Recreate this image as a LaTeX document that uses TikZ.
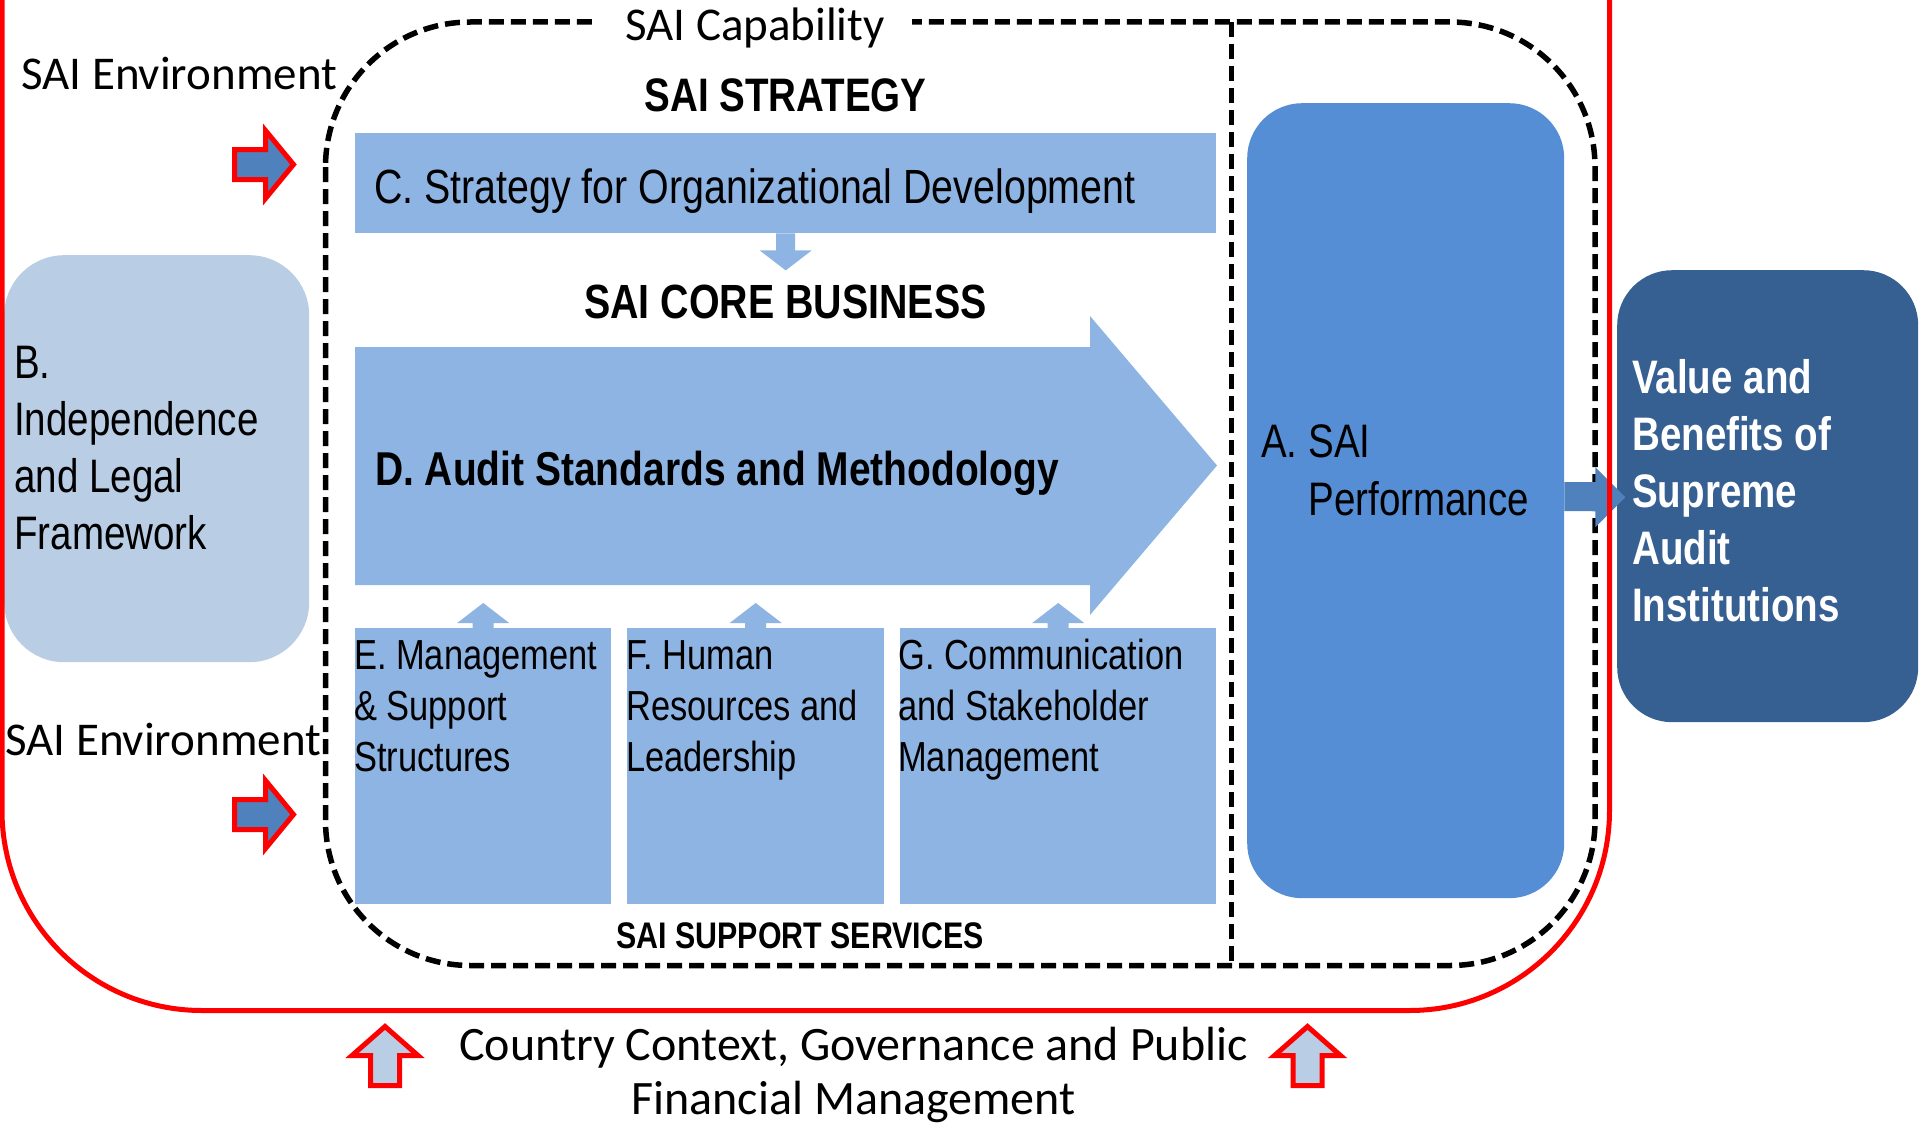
\documentclass[tikz,border=0pt]{standalone}
\usepackage{fontspec}
\newfontfamily\carl{Carlito}
\newfontfamily\narrow[FakeStretch=0.82]{Liberation Sans}
\usetikzlibrary{calc}
\definecolor{boxblue}{HTML}{8EB4E3}
\definecolor{paleblue}{HTML}{B9CDE5}
\definecolor{perfblue}{HTML}{558ED5}
\definecolor{valueblue}{HTML}{376092}
\definecolor{arrowblue}{HTML}{4F81BD}
\definecolor{outred}{HTML}{FF0000}
\tikzset{
  blk/.style={fill=boxblue, draw=none, inner sep=0pt, anchor=north west},
  rblk/.style={draw=none, inner sep=0pt, anchor=north west, rounded corners=#1},
  txtsmall/.style={font=\narrow\fontsize{42}{51}\selectfont, inner sep=0pt, align=left, anchor=north west},
  txtbig/.style={font=\narrow\fontsize{47}{57}\selectfont, inner sep=0pt, align=left, anchor=north west},
  heading/.style={font=\narrow\bfseries\fontsize{47}{57}\selectfont, inner sep=0pt, anchor=base},
  envtxt/.style={font=\carl\fontsize{47}{56}\selectfont, inner sep=0pt},
  dashline/.style={black, line width=5.5pt, dash pattern=on 15pt off 7pt},
  smalldown/.pic={\fill[boxblue] (-9.5,0) -- (-9.5,17) -- (-26,17) -- (0,37) -- (26,17) -- (9.5,17) -- (9.5,0) -- cycle;},
  smallup/.pic={\fill[boxblue] (-10.5,0) -- (-10.5,-5) -- (-26,-5) -- (0,-25) -- (26,-5) -- (10.5,-5) -- (10.5,0) -- cycle;},
  envarrow/.pic={\draw[outred, fill=arrowblue, line width=5pt, line join=miter] (0,-15) -- (31,-15) -- (31,-34) -- (59,0) -- (31,34) -- (31,15) -- (0,15) -- cycle;},
  ctxarrow/.pic={\draw[outred, fill=paleblue, line width=5pt, line join=miter] (-14.5,0) -- (-14.5,-30) -- (-33,-30) -- (0,-59) -- (33,-30) -- (14.5,-30) -- (14.5,0) -- cycle;},
}
\begin{document}
\begin{tikzpicture}[x=1pt, y=-1pt]
\useasboundingbox (0,0) rectangle (1920,1124);
\fill[white] (0,0) rectangle (1920,1124);

% SAI capability dashed frame
\draw[dashline, rounded corners=145pt] (325.5,22) rectangle (1595,965.5);
\draw[dashline] (1231.5,22) -- (1231.5,965.5);
\node[envtxt, anchor=base, fill=white, inner xsep=27pt, inner ysep=6pt] (cap) at (755,41) {SAI Capability};

% left box B
\node[rblk=60pt, fill=paleblue, minimum width=305pt, minimum height=407pt] (B) at (4,255) {};
\node[txtbig] (Bt) at (14,338.1) {\strut B.\\Independence\\and Legal\\Framework};

% strategy
\node[heading] (strat) at (785.5,111) {SAI STRATEGY};
\node[blk, minimum width=861pt, minimum height=100pt] (C) at (355,133) {};
\node[font=\narrow\fontsize{48}{57}\selectfont, inner sep=0pt, anchor=base west] (Ct) at (374,203) {C. Strategy for Organizational Development};
\pic at (C.south) {smalldown};

% core business
\node[heading, font=\narrow\bfseries\fontsize{48}{57}\selectfont] (core) at (785.5,318) {SAI CORE BUSINESS};
\fill[boxblue] (355,347) -- (1090,347) -- (1090,316) -- (1217,465.5) -- (1090,615) -- (1090,585) -- (355,585) -- cycle;
\node[heading, anchor=base west, font=\narrow\bfseries\fontsize{47.5}{57}\selectfont] (Dt) at (375,485) {D. Audit Standards and Methodology};

% support services
\node[blk, minimum width=256pt, minimum height=276pt] (E) at (355,628) {};
\node[blk, minimum width=257pt, minimum height=276pt] (F) at (627,628) {};
\node[blk, minimum width=316pt, minimum height=276pt] (G) at (900,628) {};
\pic at (E.north) {smallup};
\pic at (F.north) {smallup};
\pic at (G.north) {smallup};
\node[txtsmall] (Et) at (354,633.3) {\strut E. Management\\\& Support\\Structures};
\node[txtsmall] (Ft) at (626,633.3) {\strut F. Human\\Resources and\\Leadership};
\node[txtsmall] (Gt) at (898,633.3) {\strut G. Communication\\and Stakeholder\\Management};
\node[heading, font=\narrow\bfseries\fontsize{37}{45}\selectfont] (supp) at (800,948) {SAI SUPPORT SERVICES};

% SAI performance
\node[rblk=55pt, fill=perfblue, minimum width=317pt, minimum height=795pt] (A) at (1247,103) {};
\node[txtbig, font=\narrow\fontsize{47}{58}\selectfont] (At) at (1261,416.4) {\strut A. SAI\\\hphantom{A.\ }Performance};

% value box
\node[rblk=55pt, fill=valueblue, minimum width=301pt, minimum height=452pt] (V) at (1617,270) {};
\node[txtbig, font=\narrow\bfseries\fontsize{47}{57}\selectfont, text=white] (Vt) at (1632,353.1) {\strut Value and\\Benefits of\\Supreme\\Audit\\Institutions};

% arrow A -> value
\fill[arrowblue] ($(A.east)+(0,-18.5)$) -- ++(31,0) -- ++(0,-15) -- ($(A.east)+(61,-3.5)$) -- ($(A.east)+(31,26.5)$) -- ++(0,-16) -- ($(A.east)+(0,10.5)$) -- cycle;

% outer environment frame
\draw[outred, line width=5pt, rounded corners=200pt] (2,-400) rectangle (1609.5,1010.5);

% environment labels and arrows
\node[envtxt, anchor=base west] (env1) at (21,89) {SAI Environment};
\node[envtxt, anchor=base west] (env2) at (5,755) {SAI Environment};
\pic at (234.5,164.5) {envarrow};
\pic at (234.5,814.5) {envarrow};

% country context
\node[envtxt, font=\carl\fontsize{48}{54}\selectfont, align=center, anchor=north] (ctx) at (853.5,1022.2) {\strut Country Context, Governance and Public\\Financial Management};
\pic at (385,1085.5) {ctxarrow};
\pic at (1307.5,1085.5) {ctxarrow};
\end{tikzpicture}
\end{document}
